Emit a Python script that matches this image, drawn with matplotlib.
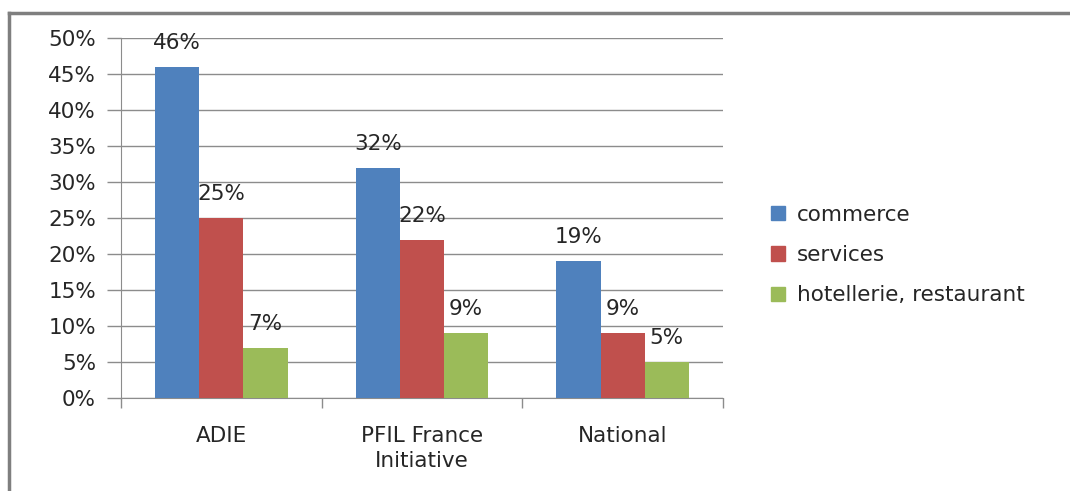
import matplotlib
matplotlib.use("Agg")
import matplotlib.pyplot as plt
from matplotlib.lines import Line2D
import numpy as np

categories = ["ADIE", "PFIL France\nInitiative", "National"]
series_names = ["commerce", "services", "hotellerie, restaurant"]
commerce = [46, 32, 19]
services = [25, 22, 9]
hotellerie = [7, 9, 5]
yticks = [0, 5, 10, 15, 20, 25, 30, 35, 40, 45, 50]

colors = ["#4F81BD", "#C0504D", "#9BBB59"]
text_color = "#262626"
grid_color = "#8C8C8C"
fs = 15.5

plt.rcParams['font.family'] = ['DejaVu Sans']

fig = plt.figure(figsize=(10.7, 4.91), dpi=100)
ax = fig.add_axes([121/1070, 1-398/491, (723-121)/1070, (398-38)/491])

x = np.arange(len(categories))
bw = 0.22
all_series = [commerce, services, hotellerie]
for i, (vals, name, c) in enumerate(zip(all_series, series_names, colors)):
    pos = x + (i - 1) * bw
    bars = ax.bar(pos, vals, width=bw, color=c, label=name, zorder=3)
    for b, v in zip(bars, vals):
        ax.annotate(f"{v}%", (b.get_x() + b.get_width()/2, v),
                    xytext=(0, 10), textcoords="offset points",
                    ha="center", va="bottom", fontsize=fs, color=text_color)

ax.set_xlim(-0.5, len(categories) - 0.5)
ax.set_ylim(0, 50)
ax.set_yticks(yticks)
ax.set_yticklabels([f"{t}%" for t in yticks], fontsize=fs, color=text_color)
ax.yaxis.grid(True, color=grid_color, linewidth=1, zorder=0)
ax.set_axisbelow(True)

ax.set_xticks(x)
ax.set_xticklabels(categories, fontsize=fs, color=text_color, linespacing=1.35)
ax.tick_params(axis='x', length=0, pad=20)
ax.set_xticks([-0.5, 0.5, 1.5, 2.5], minor=True)
ax.tick_params(axis='x', which='minor', length=7, color=grid_color, width=1)
ax.tick_params(axis='y', length=10, color=grid_color, width=1, pad=8)

for s in ["top", "right"]:
    ax.spines[s].set_visible(False)
ax.spines["left"].set_color(grid_color)
ax.spines["bottom"].set_color(grid_color)

handles = [plt.Rectangle((0, 0), 1, 1, color=c) for c in colors]
leg = fig.legend(handles, series_names, loc="center left",
                 bbox_to_anchor=(752/1070, 1-255/491), frameon=False,
                 fontsize=fs, handlelength=0.65, handleheight=0.65,
                 handletextpad=0.55, labelspacing=0.95)
for t in leg.get_texts():
    t.set_color(text_color)

# outer chart border (top and left visible)
fig.add_artist(Line2D([9/1070, 1.0], [1-13/491, 1-13/491], color="#7F7F7F", linewidth=2.5,
                      transform=fig.transFigure))
fig.add_artist(Line2D([9/1070, 9/1070], [0, 1-13/491], color="#7F7F7F", linewidth=2.5,
                      transform=fig.transFigure))

fig.savefig("out.png", dpi=100)
